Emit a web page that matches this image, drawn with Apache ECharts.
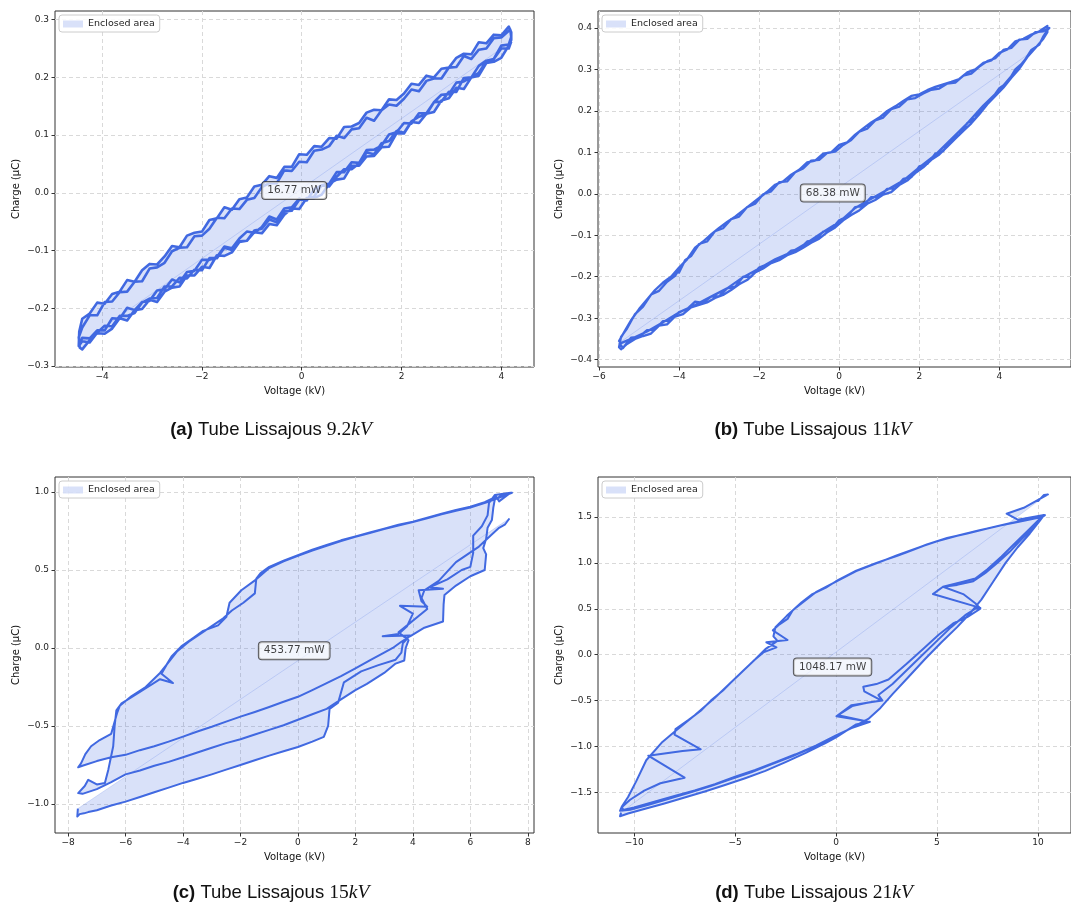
<!DOCTYPE html>
<html><head><meta charset="utf-8">
<script src="https://cdn.jsdelivr.net/npm/echarts@6/dist/echarts.min.js"></script>
<style>html,body{margin:0;padding:0;background:#fff}#c{width:1071px;height:909px}</style>
</head><body><div id="c"></div>
<script>
// ---------- data: [voltage kV, charge uC] ----------
const tubeA = [
[-4.45,-0.262],
[-4.4,-0.251],[-4.25,-0.252],[-4.1,-0.238],[-3.95,-0.238],[-3.8,-0.217],[-3.65,-0.218],[-3.5,-0.199],[-3.35,-0.203],[-3.2,-0.189],[-3.05,-0.187],
[-2.9,-0.169],[-2.75,-0.167],[-2.6,-0.150],[-2.45,-0.155],[-2.3,-0.137],[-2.15,-0.135],[-2.0,-0.116],[-1.85,-0.116],[-1.7,-0.111],[-1.55,-0.093],
[-1.4,-0.096],[-1.25,-0.079],[-1.1,-0.067],[-0.95,-0.069],[-0.8,-0.059],[-0.65,-0.041],[-0.5,-0.046],[-0.35,-0.027],[-0.2,-0.025],[-0.05,-0.010],
[0.1,-0.013],[0.25,0.006],[0.4,0.013],[0.55,0.016],[0.7,0.036],[0.85,0.036],[1.0,0.053],[1.15,0.052],[1.3,0.074],[1.45,0.075],
[1.6,0.082],[1.75,0.101],[1.9,0.105],[2.05,0.121],[2.2,0.120],[2.35,0.138],[2.5,0.138],[2.65,0.157],[2.8,0.170],[2.95,0.171],
[3.1,0.191],[3.25,0.193],[3.4,0.200],[3.55,0.220],[3.7,0.229],[3.85,0.232],[4.0,0.255],[4.15,0.257],[4.2,0.270],[4.18,0.283],
[4.15,0.283],[4.0,0.269],[3.85,0.268],[3.7,0.250],[3.55,0.248],[3.4,0.232],[3.25,0.237],[3.1,0.218],[2.95,0.217],[2.8,0.198],
[2.65,0.198],[2.5,0.194],[2.35,0.176],[2.2,0.179],[2.05,0.163],[1.9,0.151],[1.75,0.153],[1.6,0.143],[1.45,0.125],[1.3,0.130],
[1.15,0.112],[1.0,0.110],[0.85,0.095],[0.7,0.099],[0.55,0.081],[0.4,0.075],[0.25,0.073],[0.1,0.053],[-0.05,0.054],[-0.2,0.038],
[-0.35,0.039],[-0.5,0.017],[-0.65,0.017],[-0.8,0.010],[-0.95,-0.009],[-1.1,-0.012],[-1.25,-0.028],[-1.4,-0.027],[-1.55,-0.044],[-1.7,-0.043],
[-1.85,-0.062],[-2.0,-0.074],[-2.15,-0.075],[-2.3,-0.094],[-2.45,-0.095],[-2.6,-0.101],[-2.75,-0.121],[-2.9,-0.129],[-3.05,-0.131],[-3.2,-0.153],
[-3.35,-0.154],[-3.5,-0.171],[-3.65,-0.172],[-3.8,-0.188],[-3.95,-0.189],[-4.1,-0.212],[-4.25,-0.212],[-4.4,-0.233],[-4.47,-0.250],[-4.45,-0.268],
[-4.4,-0.271],[-4.25,-0.255],[-4.1,-0.243],[-3.95,-0.244],[-3.8,-0.235],[-3.65,-0.217],[-3.5,-0.221],[-3.35,-0.203],[-3.2,-0.201],[-3.05,-0.185],
[-2.9,-0.189],[-2.75,-0.171],[-2.6,-0.164],[-2.45,-0.162],[-2.3,-0.143],[-2.15,-0.143],[-2.0,-0.128],[-1.85,-0.130],[-1.7,-0.108],[-1.55,-0.109],
[-1.4,-0.103],[-1.25,-0.085],[-1.1,-0.083],[-0.95,-0.068],[-0.8,-0.070],[-0.65,-0.054],[-0.5,-0.056],[-0.35,-0.038],[-0.2,-0.027],[-0.05,-0.028],
[0.1,-0.009],[0.25,-0.009],[0.4,-0.003],[0.55,0.016],[0.7,0.023],[0.85,0.025],[1.0,0.047],[1.15,0.047],[1.3,0.063],[1.45,0.064],
[1.6,0.079],[1.75,0.080],[1.9,0.103],[2.05,0.103],[2.2,0.123],[2.35,0.121],[2.5,0.137],[2.65,0.140],[2.8,0.160],[2.95,0.164],
[3.1,0.182],[3.25,0.180],[3.4,0.200],[3.55,0.203],[3.7,0.225],[3.85,0.227],[4.0,0.234],[4.15,0.255],[4.2,0.265],[4.2,0.278],
[4.15,0.288],[4.0,0.273],[3.85,0.274],[3.7,0.259],[3.55,0.261],[3.4,0.240],[3.25,0.241],[3.1,0.234],[2.95,0.217],[2.8,0.215],
[2.65,0.200],[2.5,0.203],[2.35,0.187],[2.2,0.189],[2.05,0.172],[1.9,0.161],[1.75,0.162],[1.6,0.143],[1.45,0.144],[1.3,0.139],
[1.15,0.121],[1.0,0.115],[0.85,0.114],[0.7,0.094],[0.55,0.095],[0.4,0.080],[0.25,0.081],[0.1,0.066],[-0.05,0.067],[-0.2,0.045],
[-0.35,0.045],[-0.5,0.026],[-0.65,0.029],[-0.8,0.014],[-0.95,0.011],[-1.1,-0.008],[-1.25,-0.011],[-1.4,-0.029],[-1.55,-0.025],[-1.7,-0.044],
[-1.85,-0.047],[-2.0,-0.067],[-2.15,-0.069],[-2.3,-0.074],[-2.45,-0.094],[-2.6,-0.092],[-2.75,-0.110],[-2.9,-0.124],[-3.05,-0.123],[-3.2,-0.134],
[-3.35,-0.154],[-3.5,-0.151],[-3.65,-0.171],[-3.8,-0.175],[-3.95,-0.192],[-4.1,-0.190],[-4.25,-0.209],[-4.4,-0.218],[-4.46,-0.240],[-4.47,-0.265],
[-4.4,-0.257],[-4.25,-0.259],[-4.1,-0.242],[-3.95,-0.230],[-3.8,-0.231],[-3.65,-0.213],[-3.5,-0.213],[-3.35,-0.208],[-3.2,-0.190],[-3.05,-0.183],
[-2.9,-0.182],[-2.75,-0.162],[-2.6,-0.162],[-2.45,-0.147],[-2.3,-0.148],[-2.15,-0.133],[-2.0,-0.134],[-1.85,-0.113],[-1.7,-0.113],[-1.55,-0.095],
[-1.4,-0.099],[-1.25,-0.084],[-1.1,-0.083],[-0.95,-0.065],[-0.8,-0.062],[-0.65,-0.046],[-0.5,-0.051],[-0.35,-0.032],[-0.2,-0.031],[-0.05,-0.012],
[0.1,-0.011],[0.25,-0.006],[0.4,0.013],[0.55,0.011],[0.7,0.028],[0.85,0.041],[1.0,0.041],[1.15,0.051],[1.3,0.070],[1.45,0.067],
[1.6,0.086],[1.75,0.090],[1.9,0.107],[2.05,0.104],[2.2,0.124],[2.35,0.132],[2.5,0.136],[2.65,0.157],[2.8,0.158],[2.95,0.175],
[3.1,0.175],[3.25,0.199],[3.4,0.200],[3.55,0.208],[3.7,0.228],[3.85,0.232],[4.0,0.250],[4.15,0.250],[4.2,0.262]
];
const tubeB = [
[-5.5,-0.36],[-5.4,-0.372],[-5.2,-0.347],[-5.0,-0.345],[-4.8,-0.329],[-4.6,-0.327],[-4.4,-0.307],[-4.2,-0.305],[-4.0,-0.285],[-3.8,-0.278],
[-3.6,-0.26],[-3.4,-0.263],[-3.2,-0.248],[-3.0,-0.247],[-2.8,-0.228],[-2.6,-0.224],[-2.4,-0.2],[-2.2,-0.2],[-2.0,-0.178],[-1.8,-0.17],
[-1.6,-0.158],[-1.4,-0.154],[-1.2,-0.137],[-1.0,-0.134],[-0.8,-0.115],[-0.6,-0.112],[-0.4,-0.091],[-0.2,-0.086],[0.0,-0.064],[0.2,-0.055],
[0.4,-0.032],[0.6,-0.029],[0.8,-0.008],[1.0,-0.007],[1.2,0.012],[1.4,0.014],[1.6,0.036],[1.8,0.04],[2.0,0.066],[2.2,0.072],
[2.4,0.097],[2.6,0.103],[2.8,0.132],[3.0,0.142],[3.2,0.171],[3.4,0.182],[3.6,0.212],[3.8,0.228],[4.0,0.255],[4.2,0.268],
[4.4,0.3],[4.6,0.317],[4.8,0.347],[5.0,0.36],[5.1,0.38],[5.2,0.395],
[5.25,0.4],[5.1,0.392],[4.9,0.39],[4.7,0.374],[4.5,0.372],[4.3,0.352],[4.1,0.347],[3.9,0.327],[3.7,0.32],[3.5,0.307],
[3.3,0.29],[3.1,0.285],[2.9,0.268],[2.7,0.266],[2.5,0.254],[2.3,0.251],[2.1,0.242],[1.9,0.231],[1.7,0.228],[1.5,0.21],
[1.3,0.204],[1.1,0.184],[0.9,0.177],[0.7,0.157],[0.5,0.15],[0.3,0.13],[0.1,0.118],[-0.1,0.102],[-0.3,0.099],[-0.5,0.082],
[-0.7,0.08],[-0.9,0.061],[-1.1,0.052],[-1.3,0.03],[-1.5,0.028],[-1.7,0.006],[-1.9,-0.001],[-2.1,-0.024],[-2.3,-0.032],[-2.5,-0.055],
[-2.7,-0.061],[-2.9,-0.083],[-3.1,-0.09],[-3.3,-0.115],[-3.5,-0.121],[-3.7,-0.15],[-3.85,-0.16],[-4.0,-0.19],[-3.95,-0.175],[-4.1,-0.198],
[-4.3,-0.212],[-4.5,-0.234],[-4.7,-0.243],[-4.9,-0.272],[-5.1,-0.29],[-5.3,-0.325],[-5.45,-0.345],[-5.5,-0.37],
[-5.45,-0.375],[-5.3,-0.362],[-5.1,-0.35],[-4.9,-0.343],[-4.7,-0.337],[-4.5,-0.318],[-4.3,-0.315],[-4.1,-0.296],[-3.9,-0.29],[-3.7,-0.274],
[-3.5,-0.268],[-3.3,-0.262],[-3.1,-0.251],[-2.9,-0.244],[-2.7,-0.232],[-2.5,-0.218],[-2.3,-0.208],[-2.1,-0.19],[-1.9,-0.18],[-1.7,-0.167],
[-1.5,-0.16],[-1.3,-0.148],[-1.1,-0.141],[-0.9,-0.13],[-0.7,-0.118],[-0.5,-0.108],[-0.3,-0.093],[-0.1,-0.081],[0.1,-0.064],[0.3,-0.051],
[0.5,-0.04],[0.7,-0.024],[0.9,-0.015],[1.1,-0.002],[1.3,0.004],[1.5,0.021],[1.7,0.032],[1.9,0.05],[2.1,0.064],[2.3,0.082],
[2.5,0.095],[2.7,0.114],[2.9,0.133],[3.1,0.152],[3.3,0.17],[3.5,0.192],[3.7,0.216],[3.9,0.236],[4.1,0.256],[4.3,0.28],
[4.5,0.302],[4.7,0.33],[4.9,0.352],[5.1,0.374],[5.2,0.39],
[5.2,0.405],[5.0,0.392],[4.8,0.384],[4.6,0.374],[4.4,0.368],[4.2,0.348],[4.0,0.34],[3.8,0.322],[3.6,0.316],[3.4,0.3],
[3.2,0.293],[3.0,0.277],[2.8,0.27],[2.6,0.264],[2.4,0.258],[2.2,0.25],[2.0,0.24],[1.8,0.236],[1.6,0.224],[1.4,0.211],
[1.2,0.2],[1.0,0.184],[0.8,0.172],[0.6,0.158],[0.4,0.143],[0.2,0.124],[0.0,0.118],[-0.2,0.1],[-0.4,0.097],[-0.6,0.08],
[-0.8,0.076],[-1.0,0.058],[-1.2,0.046],[-1.4,0.03],[-1.6,0.022],[-1.8,0.005],[-2.0,-0.01],[-2.2,-0.025],[-2.4,-0.04],[-2.6,-0.055],
[-2.8,-0.068],[-3.0,-0.082],[-3.2,-0.098],[-3.4,-0.115],[-3.6,-0.13],[-3.8,-0.158],[-4.0,-0.178],[-4.2,-0.2],[-4.4,-0.214],[-4.6,-0.232],
[-4.8,-0.255],[-5.0,-0.278],[-5.2,-0.305],[-5.35,-0.33],[-5.5,-0.355],
[-5.45,-0.36],[-5.2,-0.35],[-4.8,-0.332],[-4.4,-0.31],[-4.0,-0.286],[-3.6,-0.268],[-3.2,-0.248],[-2.8,-0.228],[-2.4,-0.201],[-2.0,-0.18],
[-1.6,-0.158],[-1.2,-0.141],[-0.8,-0.118],[-0.4,-0.092],[0.0,-0.068],[0.4,-0.034],[0.8,-0.012],[1.2,0.01],[1.6,0.032],[2.0,0.064],
[2.4,0.094],[2.8,0.132],[3.2,0.17],[3.6,0.213],[4.0,0.25],[4.4,0.295],[4.8,0.342]
];
const tubeC = [
[-7.66,-1.03],[-7.68,-1.08],[-7.6,-1.065],[-7.45,-1.06],[-7.3,-1.052],[-7.0,-1.04],[-6.5,-1.01],[-6.0,-0.985],[-5.5,-0.955],[-5.0,-0.925],
[-4.5,-0.895],[-4.0,-0.865],[-3.5,-0.838],[-3.0,-0.81],[-2.5,-0.78],[-2.0,-0.75],[-1.5,-0.72],[-1.0,-0.69],[-0.5,-0.662],[0.0,-0.635],
[0.5,-0.6],[0.9,-0.57],[1.05,-0.5],[1.1,-0.39],[1.4,-0.35],[1.6,-0.22],[2.2,-0.15],[2.8,-0.11],[3.4,-0.075],[3.6,-0.03],
[3.65,0.03],[3.9,0.08],[2.95,0.075],[3.5,0.09],[3.8,0.14],[4.0,0.22],[3.55,0.27],[4.5,0.265],[4.3,0.3],[4.2,0.37],
[5.05,0.38],[4.6,0.39],[5.2,0.44],[5.7,0.5],[6.0,0.52],[6.1,0.61],[6.1,0.72],[6.4,0.78],[6.6,0.85],[6.65,0.93],
[6.85,0.98],[7.4,0.995],[7.0,0.94],[6.9,0.97],
[6.5,0.935],[6.0,0.905],[5.5,0.885],[5.0,0.86],[4.5,0.835],[4.0,0.81],[3.5,0.79],[3.0,0.765],[2.5,0.74],[2.0,0.715],
[1.5,0.69],[1.0,0.66],[0.5,0.63],[0.0,0.595],[-0.5,0.56],[-1.0,0.52],[-1.3,0.48],[-1.45,0.445],[-1.5,0.35],[-1.9,0.29],
[-2.3,0.24],[-2.6,0.19],[-3.0,0.14],[-3.4,0.09],[-3.8,0.04],[-4.2,-0.02],[-4.5,-0.09],[-4.8,-0.16],[-5.3,-0.25],[-5.8,-0.31],
[-6.2,-0.37],[-6.3,-0.42],[-6.5,-0.55],[-6.9,-0.59],[-7.2,-0.63],[-7.4,-0.68],[-7.55,-0.74],[-7.65,-0.765],
[-7.5,-0.755],[-7.0,-0.725],[-6.5,-0.7],[-6.0,-0.685],[-5.5,-0.655],[-5.0,-0.63],[-4.5,-0.6],[-4.0,-0.568],[-3.5,-0.535],[-3.0,-0.505],
[-2.5,-0.472],[-2.0,-0.44],[-1.5,-0.41],[-1.0,-0.378],[-0.5,-0.345],[0.0,-0.313],[0.5,-0.27],[1.0,-0.225],[1.5,-0.18],[2.0,-0.13],
[2.5,-0.08],[3.0,-0.03],[3.3,0.0],[3.6,0.04],[3.9,0.075],[4.4,0.13],[5.05,0.17],[5.07,0.28],[5.1,0.34],[5.5,0.4],
[6.0,0.46],[6.5,0.5],[6.55,0.6],[6.45,0.64],[6.55,0.7],[6.6,0.77],[6.75,0.82],[6.8,0.9],[6.85,0.95],[7.1,0.98],
[7.45,0.995],[7.1,0.97],
[6.6,0.935],[6.0,0.9],[5.5,0.88],[5.0,0.857],[4.5,0.832],[4.0,0.808],[3.5,0.785],[3.0,0.762],[2.5,0.737],[2.0,0.712],
[1.5,0.685],[1.0,0.655],[0.5,0.625],[0.0,0.59],[-0.5,0.555],[-1.0,0.512],[-1.45,0.44],[-1.97,0.37],[-2.38,0.29],[-2.49,0.2],
[-2.78,0.145],[-3.3,0.11],[-3.6,0.07],[-4.06,0.01],[-4.4,-0.055],[-4.58,-0.11],[-4.75,-0.165],[-4.35,-0.225],[-4.8,-0.2],[-5.57,-0.29],
[-6.14,-0.355],[-6.32,-0.4],[-6.38,-0.5],[-6.43,-0.63],[-6.6,-0.78],[-6.72,-0.865],[-7.0,-0.875],[-7.3,-0.845],[-7.42,-0.885],[-7.65,-0.93],
[-7.5,-0.935],[-7.0,-0.905],[-6.5,-0.86],[-6.0,-0.81],[-5.5,-0.785],[-5.0,-0.755],[-4.5,-0.73],[-4.0,-0.70],[-3.5,-0.67],[-3.0,-0.64],
[-2.5,-0.61],[-2.0,-0.585],[-1.5,-0.555],[-1.0,-0.525],[-0.5,-0.495],[0.0,-0.46],[0.5,-0.425],[1.0,-0.39],[1.5,-0.33],[2.0,-0.27],
[2.4,-0.23],[3.0,-0.16],[3.4,-0.1],[3.7,-0.08],[3.75,0.0],[3.85,0.05],[3.5,0.1],[4.5,0.25],[4.3,0.32],[4.4,0.37],
[4.9,0.43],[5.5,0.55],[5.9,0.6],[6.3,0.65],[6.7,0.72],[7.0,0.77],[7.2,0.79],[7.36,0.83]
];
const tubeD = [
[-10.65,-1.72],[-10.7,-1.76],[-10.3,-1.73],[-9.5,-1.68],[-8.5,-1.62],[-7.5,-1.555],[-6.5,-1.49],[-5.5,-1.42],[-4.5,-1.345],[-3.5,-1.265],
[-2.5,-1.17],[-1.5,-1.07],[-0.5,-0.96],[0.0,-0.9],[0.5,-0.83],[1.0,-0.76],[1.6,-0.73],[0.1,-0.66],[0.8,-0.56],[1.6,-0.52],
[2.3,-0.5],[2.1,-0.44],[2.8,-0.32],[3.5,-0.17],[4.2,-0.02],[5.0,0.15],[5.7,0.3],[6.4,0.43],[6.9,0.5],[7.15,0.51],
[4.8,0.66],[5.3,0.74],[6.0,0.76],[6.8,0.8],[7.4,0.89],[8.0,1.0],[8.6,1.12],[9.2,1.26],[9.8,1.39],[10.3,1.52],
[9.5,1.47],[8.5,1.425],[7.5,1.375],[6.5,1.32],[5.5,1.27],[4.5,1.2],[3.5,1.115],[3.0,1.075],[2.0,1.0],[1.0,0.915],
[0.0,0.8],[-0.5,0.73],[-1.17,0.66],[-1.7,0.57],[-2.15,0.48],[-2.4,0.39],[-2.8,0.33],[-3.13,0.265],[-2.4,0.16],[-3.45,0.135],
[-2.95,0.08],[-3.6,0.025],[-4.1,-0.07],[-4.6,-0.175],[-5.1,-0.28],[-5.6,-0.39],[-6.2,-0.5],[-6.7,-0.61],[-7.3,-0.71],[-7.95,-0.81],
[-8.0,-0.87],[-6.7,-1.03],[-7.6,-1.05],[-9.3,-1.1],[-7.5,-1.34],[-8.7,-1.4],[-9.5,-1.48],[-10.2,-1.58],[-10.6,-1.66],
[-10.55,-1.69],[-10.0,-1.665],[-9.0,-1.6],[-8.0,-1.54],[-7.0,-1.48],[-6.0,-1.41],[-5.0,-1.33],[-4.0,-1.255],[-3.0,-1.17],[-2.0,-1.085],
[-1.0,-0.99],[0.0,-0.88],[0.77,-0.8],[1.68,-0.73],[0.02,-0.67],[0.77,-0.55],[2.26,-0.5],[1.4,-0.4],[1.35,-0.35],[2.0,-0.32],
[2.6,-0.27],[3.5,-0.1],[4.3,0.06],[5.1,0.22],[5.8,0.34],[6.5,0.41],[7.15,0.5],[6.9,0.56],[6.3,0.66],[5.3,0.74],
[6.2,0.79],[6.9,0.83],[7.5,0.93],[8.2,1.07],[8.8,1.2],[9.5,1.35],[10.1,1.48],[10.35,1.52],
[10.2,1.5],[9.0,1.445],[8.0,1.4],[7.0,1.35],[6.0,1.295],[5.0,1.235],[4.0,1.16],[3.0,1.08],[2.0,0.995],[1.0,0.91],
[0.0,0.795],[-1.0,0.68],[-2.0,0.51],[-2.45,0.42],[-3.0,0.3],[-3.1,0.2],[-2.9,0.15],[-3.5,0.06],[-4.0,-0.05],[-5.0,-0.26],
[-6.0,-0.47],[-7.0,-0.66],[-8.0,-0.84],[-8.6,-0.95],[-9.4,-1.15],[-9.9,-1.38],[-10.3,-1.55],[-10.6,-1.65],
[-10.7,-1.7],[-10.2,-1.69],[-9.2,-1.63],[-8.2,-1.565],[-7.2,-1.5],[-6.2,-1.43],[-5.2,-1.355],[-4.2,-1.28],[-3.2,-1.195],[-2.2,-1.11],
[-1.2,-1.015],[-0.2,-0.91],[0.5,-0.83],[1.0,-0.77],[1.6,-0.7],[2.2,-0.58],[2.8,-0.43],[3.6,-0.24],[4.4,-0.05],[5.2,0.13],
[6.0,0.3],[6.6,0.44],[7.2,0.6],[7.8,0.8],[8.4,1.0],[9.0,1.17],[9.6,1.32],[10.1,1.46],[10.3,1.52],[9.0,1.47],
[8.45,1.535],[9.3,1.6],[10.5,1.745],[10.3,1.74],[10.0,1.67]
];
const powerText = ['16.77 mW', '68.38 mW', '453.77 mW', '1048.17 mW'];
const powerAt = [[-0.15, 0.004], [-0.16, 0.002], [-0.13, -0.017], [-0.17, -0.134]];
const captionTag = ['(a)', '(b)', '(c)', '(d)'];
const captionKV = ['9.2', '11', '15', '21'];
const xMin = [-4.946, -6.025, -8.456, -11.79];
const xMax = [4.656, 5.79, 8.216, 11.64];
const yMin = [-0.3015, -0.4177, -1.186, -1.942];
const yMax = [0.315, 0.441, 1.096, 1.935];
const xTicks = [[-4,-2,0,2,4], [-6,-4,-2,0,2,4], [-8,-6,-4,-2,0,2,4,6,8], [-10,-5,0,5,10]];
const yTicks = [[-0.3,-0.2,-0.1,0,0.1,0.2,0.3], [-0.4,-0.3,-0.2,-0.1,0,0.1,0.2,0.3,0.4], [-1,-0.5,0,0.5,1], [-1.5,-1,-0.5,0,0.5,1,1.5]];
const xSplit = [5, 5, 8, 5];
const ySplit = [6, 8, 5, 8];

// ---------- layout ----------
const loops = [tubeA, tubeB, tubeC, tubeD];
const gridPos = [[55, 11], [598, 11], [55, 477], [598, 477]];
const GW = 479, GH = 356;
const capPos = [[271, 430], [813, 430], [271, 893], [814, 893]];
const traceWidth = [2.6, 2.3, 2, 2];
const BLUE = '#4169e1';
const FILL = 'rgba(65,105,225,0.2)';
const fmt = d => v => (v < 0 ? '\u2212' : '') + Math.abs(v).toFixed(d);

const chart = echarts.init(document.getElementById('c'), null, {renderer: 'canvas'});
const grids = [], xAxes = [], yAxes = [], series = [], legends = [], graphics = [];
for (let i = 0; i < 4; i++) {
  grids.push({left: gridPos[i][0], top: gridPos[i][1], width: GW, height: GH,
    show: true, borderColor: '#333', borderWidth: 1, backgroundColor: 'transparent', containLabel: false});
  const tickStyle = {show: true, length: 3.5, inside: false, lineStyle: {color: '#333', width: 1}};
  const axisCommon = {
    gridIndex: i, type: 'value',
    axisLine: {show: false, onZero: false},
    splitLine: {show: true, lineStyle: {color: '#d9d9d9', width: 1, type: [4, 3]}},
    nameTextStyle: {fontFamily: 'DejaVu Sans', fontSize: 10, color: '#111'}
  };
  xAxes.push(Object.assign({}, axisCommon, {
    position: 'bottom',
    min: xMin[i], max: xMax[i], splitNumber: xSplit[i],
    name: 'Voltage (kV)', nameLocation: 'middle', nameGap: 19,
    axisTick: Object.assign({}, tickStyle, {customValues: xTicks[i]}),
    axisLabel: {customValues: xTicks[i], formatter: fmt(0), margin: 5, fontFamily: 'DejaVu Sans', fontSize: 9, color: '#222'}
  }));
  yAxes.push(Object.assign({}, axisCommon, {
    position: 'left',
    min: yMin[i], max: yMax[i], splitNumber: ySplit[i],
    name: 'Charge (\u00b5C)', nameLocation: 'middle', nameGap: 34,
    axisTick: Object.assign({}, tickStyle, {customValues: yTicks[i]}),
    axisLabel: {customValues: yTicks[i], formatter: fmt(1), margin: 6, fontFamily: 'DejaVu Sans', fontSize: 9, color: '#222'}
  }));
  const pts = loops[i];
  series.push({
    type: 'custom', name: 'Enclosed area', xAxisIndex: i, yAxisIndex: i,
    data: [pts[0]], itemStyle: {color: FILL}, silent: true, z: 1,
    renderItem: (params, api) => ({
      type: 'polygon',
      shape: {points: pts.map(p => api.coord(p))},
      style: {fill: FILL, stroke: FILL, lineWidth: 1}
    })
  });
  series.push({
    type: 'line', name: 'trace' + i, xAxisIndex: i, yAxisIndex: i, data: pts,
    showSymbol: false, symbol: 'none', silent: true, z: 3, clip: true,
    lineStyle: {color: BLUE, width: traceWidth[i], join: 'round'}, itemStyle: {color: BLUE}
  });
  series.push({
    type: 'scatter', name: 'power' + i, xAxisIndex: i, yAxisIndex: i, data: [powerAt[i]],
    symbolSize: 1, itemStyle: {color: 'rgba(0,0,0,0)'}, silent: true, z: 10,
    label: {show: true, position: 'inside', formatter: powerText[i],
      fontFamily: 'DejaVu Sans', fontSize: 10.5, color: '#111',
      backgroundColor: 'rgba(255,255,255,0.85)', borderColor: '#333', borderWidth: 1,
      borderRadius: 3, padding: [3, 5, 3, 5]}
  });
  legends.push({
    left: gridPos[i][0] + 4, top: gridPos[i][1] + 4, data: ['Enclosed area'],
    icon: 'rect', itemWidth: 20, itemHeight: 7, itemGap: 5, selectedMode: false,
    backgroundColor: 'rgba(255,255,255,0.85)', borderColor: '#cccccc', borderWidth: 1, borderRadius: 3,
    padding: [4, 5, 3, 4],
    textStyle: {fontFamily: 'DejaVu Sans', fontSize: 9.5, color: '#222'}
  });
  graphics.push({
    type: 'text', x: capPos[i][0], y: capPos[i][1], silent: true,
    style: {
      text: '{b|' + captionTag[i] + '} Tube Lissajous {m|' + captionKV[i] + '}{k|kV}',
      align: 'center', verticalAlign: 'middle',
      fontFamily: 'Liberation Sans', fontSize: 18.5, fill: '#111',
      rich: {
        b: {fontFamily: 'Liberation Sans', fontWeight: 'bold', fontSize: 18.5, fill: '#111'},
        m: {fontFamily: 'Liberation Serif', fontSize: 19.5, fill: '#111'},
        k: {fontFamily: 'Liberation Serif', fontStyle: 'italic', fontSize: 19.5, fill: '#111'}
      }
    }
  });
}
chart.setOption({
  animation: false,
  backgroundColor: '#ffffff',
  textStyle: {fontFamily: 'DejaVu Sans'},
  grid: grids, xAxis: xAxes, yAxis: yAxes, series: series, legend: legends, graphic: graphics
});
</script>
</body></html>
